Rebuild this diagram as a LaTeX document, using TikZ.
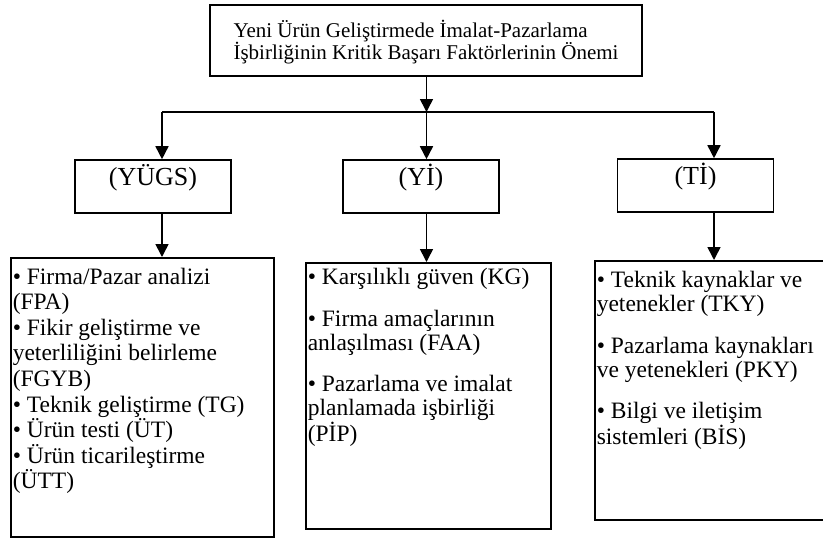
\documentclass[tikz,border=0pt]{standalone}
\usepackage{fontspec}
\setmainfont{Liberation Serif}
\usetikzlibrary{%
  arrows.meta,positioning}
\tikzset {>={Triangle[width=13pt,length=13pt]}}

\begin{document}
\begin{tikzpicture}[x=1pt,y=-1pt,line width=1.6pt,
  topbox/.style={draw,align=left,minimum width=432pt,minimum height=71pt,
    font=\fontsize{21}{22}\selectfont,text depth=2pt},
  hdr/.style={draw,minimum width=156pt,minimum height=53pt,
    font=\fontsize{26}{28}\selectfont,text height=18pt,text depth=21pt},
  listbox/.style={draw,anchor=north west,inner sep=0pt},
  listtxt/.style={anchor=north west,align=left,inner sep=0pt,
    font=\fontsize{23.5}{24}\selectfont}]
\useasboundingbox (0,0) rectangle (823,539);
% top box
\node[topbox] (top) at (426,40.5) {Yeni Ürün Geliştirmede İmalat-Pazarlama\\
  İşbirliğinin Kritik Başarı Faktörlerinin Önemi};
\coordinate (jl) at (162,112);
\coordinate (jm) at (426.5,112);
\coordinate (jr) at (714,112);
% header boxes
\node[hdr] (yugs) at (153,186.5) {(YÜGS)};
\node[hdr] (yi) at (421,186.5) {(Yİ)};
\node[hdr] (ti) at (695.5,185.5) {(Tİ)};
% list boxes
\node[listbox,minimum width=263pt,minimum height=279pt] (fga) at (10,257) {};
\node[listbox,minimum width=245pt,minimum height=266pt] (kg) at (305,262) {};
\node[listbox,minimum width=232pt,minimum height=259pt] (tky) at (594,260) {};
\node[listtxt,font=\fontsize{23.5}{25.6}\selectfont] (fgatxt) at (12,267)
  {• Firma/Pazar analizi\\(FPA)\\• Fikir geliştirme ve\\
  yeterliliğini belirleme\\(FGYB)\\• Teknik geliştirme (TG)\\
  • Ürün testi (ÜT)\\• Ürün ticarileştirme\\(ÜTT)};
\node[listtxt] (kgtxt) at (307,267.5)
  {• Karşılıklı güven (KG)\\[17.5pt]• Firma amaçlarının\\
  anlaşılması (FAA)\\[17.5pt]• Pazarlama ve imalat\\
  planlamada işbirliği\\(PİP)};
\node[listtxt] (tkytxt) at (596,270.5)
  {• Teknik kaynaklar ve\\yetenekler (TKY)\\[17.5pt]• Pazarlama kaynakları\\
  ve yetenekleri (PKY)\\[17.5pt]• Bilgi ve iletişim\\sistemleri (BİS)};
% connectors
\draw[->] (top.south -| jm) -- (jm);
\draw (jl) -- (jr);
\draw[->] (jl) -- (jl |- yugs.north);
\draw[->] (jm) -- (jm |- yi.north);
\draw[->] (jr) -- (jr |- ti.north);
\draw[->] (jl |- yugs.south) -- (jl |- fga.north);
\draw[->] (jm |- yi.south) -- (jm |- kg.north);
\draw[->] (jr |- ti.south) -- (jr |- tky.north);
\end{tikzpicture}
\end{document}
